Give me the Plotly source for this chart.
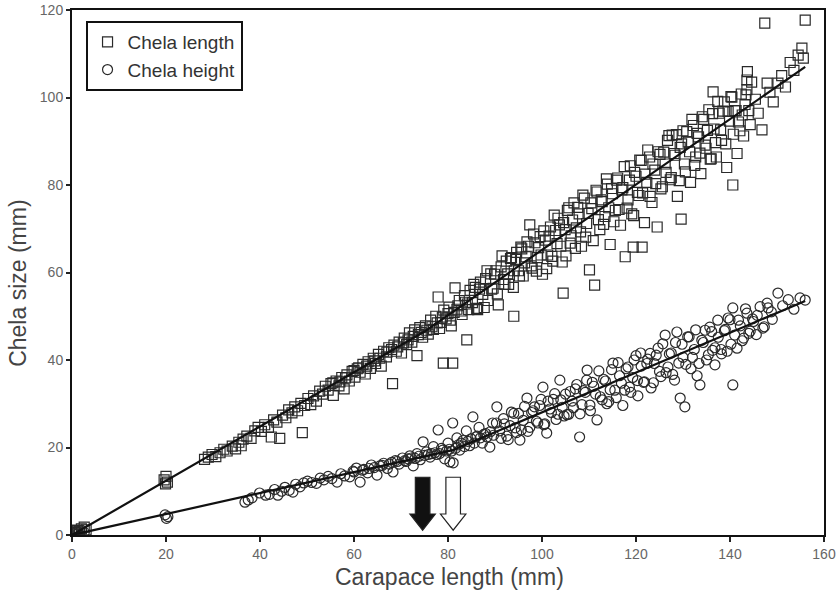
import plotly.graph_objects as go

# ---- Data ----
# Chela length (squares): scattered points
length_x = [0.3,0.8,1.2,1.6,2.0,2.6,3.0,0.5,
    19.6,20.0,20.3,19.9,
    28.2,29.0,29.8,30.6,31.5,32.3,33.0,34.1,34.8,35.5,36.4,36.0,
    37.2,38.1,38.9,39.6,40.3,41.0,41.8,42.4,42.9,43.6,44.2,44.8,45.5,46.1,46.8,47.4,48.0,48.7,49.0,49.5,50.2,50.8,
    51.4,52.0,52.7,53.3,53.9,54.5,55.1,55.6,56.2,56.8,57.4,57.9,58.5,59.0,59.6,60.2,60.7,
    61.3,61.9,62.4,63.0,63.5,64.1,64.6,65.2,65.8,66.3,66.9,67.4,68.2,68.5,69.0,69.6,70.1,70.7,71.2,71.8,72.3,72.9,73.4,74.0,74.6,
    75.2,75.8,76.3,76.9,77.4,77.9,78.5,79.0,79.1,79.6,80.2,80.7,81.0,81.5,81.9,82.4,83.0,83.5,84.0,84.1,84.7,85.2,85.8,86.3,86.9,87.4,88.0,88.5,89.1,89.6,90.2,90.7,
    91.3,91.8,92.4,92.9,93.5,94.0,94.1,94.6,95.2,95.7,96.3,96.8,97.4,97.9,98.5,99.0,99.6,100.1,100.7,101.2,101.8,102.3,102.9,103.4,104.0,104.5,104.6,105.1,
    105.7,106.2,106.8,107.3,107.9,108.4,109.0,109.5,110.1,110.6,111.2,111.7,112.3,112.8,113.4,113.9,114.5,115.0,115.6,116.1,116.7,117.2,117.7,118.3,118.8,119.4,119.5,120.0,120.6,121.1,121.3,121.8,122.3,122.9,123.4,124.0,124.5,125.1,
    125.6,126.2,126.7,127.3,127.7,128.3,128.8,129.4,129.6,130.0,130.5,131.1,131.6,132.2,132.7,133.3,133.8,134.4,134.9,135.5,136.0,136.4,136.6,137.1,137.7,138.2,138.8,139.3,139.9,140.4,140.6,141.0,141.5,142.1,142.6,143.2,143.6,143.6,143.7,144.3,
    145.4,146.0,146.8,147.4,147.9,148.5,149.2,150.2,151.0,151.8,152.8,153.6,154.5,155.3,156.0,155.6]
length_y = [0.2,0.6,1.0,0.7,1.4,1.8,1.2,1.1,
    12.6,13.4,12.1,11.7,
    17.3,17.8,18.4,17.9,18.8,19.6,19.2,20.3,19.7,21.2,21.9,20.4,
    22.6,22.1,23.8,24.6,23.7,25.2,24.6,22.4,26.3,25.8,22.1,27.4,26.8,28.6,27.9,29.3,28.4,30.1,23.4,29.6,31.2,29.8,
    31.8,30.6,32.9,32.2,34.0,33.1,34.6,31.9,35.2,34.1,36.0,33.4,36.6,35.2,37.4,36.1,38.0,
    37.2,39.0,36.8,39.6,38.1,40.4,39.2,41.3,38.6,42.0,40.7,42.8,34.6,43.4,42.0,44.1,41.6,45.0,43.5,46.2,44.1,46.9,41.0,47.4,45.2,
    47.8,45.9,49.1,47.0,50.0,54.4,48.6,39.3,51.4,49.4,52.1,47.8,39.3,56.5,51.6,53.6,50.4,54.7,44.6,52.8,55.9,53.1,56.6,51.5,57.8,55.0,58.6,53.6,59.7,56.4,60.4,52.6,
    61.3,58.4,62.6,57.3,63.4,50.0,60.4,64.6,59.2,65.4,62.2,67.0,70.9,61.0,66.8,63.4,68.2,59.6,67.4,64.0,70.4,62.6,69.6,72.4,66.0,55.3,71.4,63.8,
    74.8,68.4,75.9,70.2,73.4,66.0,77.0,71.2,60.6,74.6,57.1,78.4,69.8,76.2,72.8,80.2,66.4,78.0,74.2,81.6,70.8,79.4,63.6,76.6,84.4,65.8,73.0,82.0,77.6,85.6,65.8,71.4,80.6,86.4,76.0,83.4,70.4,87.0,
    79.6,84.8,90.2,81.2,91.4,86.8,77.4,88.6,72.2,92.4,83.0,89.8,80.6,93.6,86.4,91.0,82.6,95.0,88.4,97.2,86.0,101.3,92.8,86.4,96.4,90.2,99.0,84.0,94.6,100.1,80.0,97.0,87.2,92.4,96.0,98.4,101.8,104.0,105.9,93.8,
    99.6,96.4,92.6,117.0,103.3,101.2,99.0,103.3,105.0,102.4,108.0,106.2,109.7,111.3,117.7,109.0]
# Chela length: dense cloud of points around the fitted line
length_band_x = [55.5,57.0,58.2,60.0,61.0,62.7,64.4,65.5,67.0,68.0,69.3,70.5,71.5,72.6,73.7,74.3,
    75.5,76.6,77.7,78.2,78.8,80.0,80.5,81.3,82.1,82.8,83.7,84.4,
    85.5,86.1,86.7,87.7,88.3,89.3,89.9,90.5,91.5,92.1,92.7,93.3,93.9,94.4,95.0,95.5,96.0,96.6,97.1,97.7,98.2,98.8,99.3,99.8,
    100.4,101.0,101.5,102.1,102.6,103.2,103.7,104.3,104.9,105.4,106.0,106.5,107.1,107.6,108.2,108.7,109.3,109.8,110.4,110.9,111.5,112.0,112.6,113.1,113.7,114.2,114.8,115.3,115.9,116.4,117.0,117.5,118.1,118.6,119.1,119.7,120.3,120.8,121.4,121.9,122.5,123.0,123.6,124.2,124.7,
    125.3,125.9,126.4,127.0,127.5,128.1,128.6,129.2,129.7,130.3,130.8,131.4,131.9,132.5,133.0,133.6,134.1,134.7,135.2,135.8,136.3,136.9,137.4,138.0,138.5,139.1,139.6,140.2,140.7,141.3,141.8,142.4,142.9,143.4,144.0,144.6]
length_band_y = [34.8,35.0,35.9,37.6,38.2,38.6,39.8,40.4,41.8,42.4,43.0,43.9,44.6,45.4,45.8,46.3,
    46.8,47.6,48.5,47.2,49.8,50.6,49.1,50.9,52.4,51.2,53.2,51.5,
    57.3,51.8,56.2,52.0,60.4,56.2,59.6,55.1,63.8,57.3,59.7,63.2,56.6,63.0,60.4,65.8,59.2,63.6,66.0,61.5,68.8,60.3,65.7,64.0,
    69.5,60.9,68.3,63.7,73.1,66.6,70.9,62.4,69.8,74.2,66.7,72.0,65.5,74.9,69.3,77.7,68.1,73.5,75.9,67.3,78.8,72.1,76.6,71.0,81.4,74.8,79.2,71.6,81.1,74.4,78.9,84.2,74.7,81.1,73.4,82.9,78.3,85.7,78.2,82.5,88.0,77.4,84.8,80.3,87.6,
    79.1,87.5,82.9,91.3,81.7,87.2,91.5,81.0,89.4,84.8,92.2,87.6,95.0,84.5,91.8,87.3,95.6,89.1,92.5,85.9,96.3,89.7,99.1,92.6,96.9,89.4,96.8,100.2,91.6,97.0,94.4,100.8,91.2,100.6,97.0,103.5]

# Chela height (circles): scattered points
height_x = [0.4,0.9,1.4,2.0,2.6,1.1,
    19.8,20.1,20.4,
    36.8,37.5,38.3,39.9,41.2,42.0,43.1,43.8,44.6,45.3,46.2,47.0,47.6,48.5,49.3,50.1,
    51.0,52.0,52.8,53.6,54.5,55.3,56.4,57.2,58.0,59.1,59.8,60.5,61.3,62.1,62.9,63.7,64.9,65.5,
    66.3,67.1,68.3,68.8,69.6,70.3,71.1,71.9,72.6,73.4,74.1,74.7,75.4,76.2,76.9,77.6,77.9,78.6,79.3,80.0,80.4,80.8,
    81.0,81.1,81.9,82.5,83.2,83.9,84.6,85.3,85.9,86.6,87.3,88.0,88.9,89.5,90.4,91.0,91.8,92.5,93.2,94.0,94.6,95.3,96.0,96.8,97.4,98.1,98.8,99.5,100.2,
    100.6,101.0,101.7,102.4,103.0,103.8,104.3,105.0,105.7,106.4,107.1,108.0,108.5,109.2,109.6,110.3,111.0,111.7,112.4,113.1,113.8,114.5,115.1,115.8,116.5,117.2,117.9,118.6,119.3,120.0,120.4,
    121.1,121.8,122.5,123.2,123.9,124.7,125.3,126.2,126.8,127.5,128.2,128.7,129.4,130.0,130.4,131.0,131.7,132.4,133.0,133.6,134.3,135.0,135.7,136.3,136.8,137.5,138.2,139.0,139.6,140.2,
    140.6,140.6,141.5,142.2,142.9,143.6,144.3,145.0,145.8,147.0,147.9,148.8,150.2,151.2,152.4,153.6,154.9,156.0]
height_y = [0.3,0.9,0.5,1.1,0.6,0.2,
    4.6,3.8,4.2,
    7.5,8.0,8.5,9.6,9.1,9.3,10.4,9.1,10.0,10.9,10.2,9.8,11.6,11.0,11.9,12.3,
    12.0,11.8,13.0,12.6,13.4,12.9,12.1,14.0,13.5,13.3,14.6,15.3,12.1,15.0,14.2,16.0,13.7,15.8,
    16.4,15.2,14.4,17.0,16.2,17.6,16.8,18.1,15.8,18.6,17.2,21.3,19.0,17.8,20.2,18.4,24.0,19.8,17.4,21.0,16.7,19.2,
    25.6,16.5,22.2,19.4,21.6,23.8,20.4,27.0,22.4,24.6,21.0,23.2,20.1,25.6,29.3,23.8,26.6,22.6,25.0,27.8,23.4,21.7,26.2,31.3,24.6,28.4,26.0,29.6,33.8,
    25.4,23.3,28.8,31.0,26.4,35.4,29.2,32.2,27.6,30.6,33.4,22.4,29.8,32.6,37.7,28.4,34.0,26.3,31.6,35.6,30.0,33.2,39.3,31.4,36.4,29.6,38.0,33.8,36.0,41.0,31.8,
    38.6,35.0,40.2,33.6,39.2,42.7,36.2,45.7,38.4,41.6,35.4,46.4,31.3,40.6,29.3,45.3,38.0,42.4,36.4,34.3,44.0,40.0,47.5,42.2,38.9,45.2,41.4,47.0,49.6,43.6,
    51.9,34.3,42.7,47.8,45.0,50.7,46.6,48.8,50.2,47.3,53.0,51.0,55.3,52.4,53.8,51.6,54.2,53.7]
# Chela height: dense cloud around the fitted line
height_band_x = [60.0,61.8,63.2,64.3,66.0,67.5,68.0,69.2,70.8,71.5,72.2,73.0,73.8,75.0,75.8,76.5,77.2,78.2,78.9,79.7,80.3,
    81.6,82.2,82.8,83.5,84.2,84.9,85.6,86.2,86.9,87.6,88.3,89.0,89.7,
    90.3,91.3,92.0,92.8,93.5,94.3,95.0,95.6,96.3,97.0,97.8,98.4,99.1,99.8,100.4,101.3,102.0,102.7,103.4,104.0,104.7,
    105.3,106.0,106.7,107.4,108.1,108.8,109.5,110.2,110.7,111.4,112.1,112.8,113.5,114.2,114.8,115.5,116.2,116.9,117.6,118.3,118.9,119.6,120.3,121.0,121.6,122.3,123.0,123.7,124.3,125.0,125.7,126.4,127.1,127.8,128.4,129.1,129.8,
    130.6,131.3,132.0,132.7,133.4,134.0,134.7,135.4,136.1,136.8,137.4,138.1,138.8,139.4,140.0,141.0,141.8,142.6,143.3,144.0,144.8,145.6,146.4,147.3,148.1,149.0]
height_band_y = [14.4,14.8,15.2,15.4,15.9,16.2,16.6,16.8,17.0,17.4,17.6,17.5,18.0,18.2,18.4,18.6,18.8,18.6,19.4,19.2,19.6,
    19.8,20.6,21.0,20.2,21.4,22.0,21.0,22.6,22.2,23.0,22.4,23.6,22.8,
    25.6,22.1,25.4,21.8,28.1,24.5,27.8,24.0,29.4,23.7,28.0,29.3,25.6,31.0,25.2,30.6,28.0,32.3,27.6,30.9,27.2,
    27.5,32.8,29.1,34.4,27.7,33.0,35.4,29.7,34.9,32.2,37.5,30.9,35.2,30.5,37.8,33.1,39.4,34.7,33.1,38.4,32.6,40.0,35.3,41.6,34.9,39.2,41.5,34.8,41.1,37.4,43.7,37.1,41.4,36.7,44.0,39.3,43.6,
    39.0,45.3,40.6,46.9,39.2,44.5,46.8,41.2,46.5,42.8,49.1,42.4,46.7,42.0,49.2,45.7,49.1,44.4,51.7,46.1,49.4,45.8,52.2,47.6,51.9,49.3]

# piecewise fitted lines
length_fit_x = [0, 75, 156]
length_fit_y = [0, 46.5, 107]
height_fit_x = [0, 81, 156]
height_fit_y = [0, 19.4, 53.5]

# breakpoint arrows (x positions, filled / open)
arrow_x = [74.6, 81.1]
arrow_fill = ["#111111", "#ffffff"]

x_ticks = [0, 20, 40, 60, 80, 100, 120, 140, 160]
y_ticks = [0, 20, 40, 60, 80, 100, 120]

marker_style = dict(size=10, color="#2a2a2a", line=dict(width=1.2))

fig = go.Figure()
fig.add_trace(go.Scatter(x=length_x + length_band_x, y=length_y + length_band_y,
    mode="markers", name="Chela length",
    marker=dict(symbol="square-open", **marker_style)))
fig.add_trace(go.Scatter(x=height_x + height_band_x, y=height_y + height_band_y,
    mode="markers", name="Chela height",
    marker=dict(symbol="circle-open", **marker_style)))
fig.add_trace(go.Scatter(x=length_fit_x, y=length_fit_y, mode="lines", showlegend=False,
    line=dict(color="#111111", width=2.2)))
fig.add_trace(go.Scatter(x=height_fit_x, y=height_fit_y, mode="lines", showlegend=False,
    line=dict(color="#111111", width=2.2)))

# arrows as path shapes in data units
shaft_half, head_half = 1.55, 2.7
top, head_base, tip = 13.2, 4.8, 1.1
for ax, fc in zip(arrow_x, arrow_fill):
    path = (f"M {ax-shaft_half} {top} L {ax+shaft_half} {top} L {ax+shaft_half} {head_base} "
            f"L {ax+head_half} {head_base} L {ax} {tip} L {ax-head_half} {head_base} "
            f"L {ax-shaft_half} {head_base} Z")
    fig.add_shape(type="path", path=path, xref="x", yref="y",
                  fillcolor=fc, line=dict(color="#222222", width=1.2))

axis_common = dict(showgrid=False, zeroline=False, showline=True, linecolor="#111111",
                   linewidth=2, mirror=True, ticks="outside", tickcolor="#222222",
                   tickwidth=2, automargin=False,
                   tickfont=dict(family="Liberation Sans, Arial", size=14, color="#666666"))
fig.update_xaxes(range=[0, 160], tickvals=x_ticks, ticklen=5, **axis_common)
fig.update_yaxes(range=[0, 120], tickvals=y_ticks, ticklen=4, **axis_common)

fig.add_annotation(text="Carapace length (mm)", xref="paper", yref="paper",
    x=0.502, y=-0.08, xanchor="center", yanchor="middle", showarrow=False,
    font=dict(family="Liberation Sans, Arial", size=23, color="#444444"))
fig.add_annotation(text="Chela size (mm)", xref="paper", yref="paper",
    x=-0.072, y=0.48, xanchor="center", yanchor="middle", showarrow=False, textangle=-90,
    font=dict(family="Liberation Sans, Arial", size=23, color="#444444"))

fig.update_layout(
    width=837, height=592,
    margin=dict(l=72, r=13, t=10, b=57),
    paper_bgcolor="white", plot_bgcolor="white",
    showlegend=True,
    legend=dict(x=0.018, y=0.979, xanchor="left", yanchor="top",
                bordercolor="#111111", borderwidth=2, bgcolor="white",
                font=dict(family="Liberation Sans, Arial", size=19, color="#333333"),
                itemwidth=30, tracegroupgap=0),
)

fig.write_html("out.html")
